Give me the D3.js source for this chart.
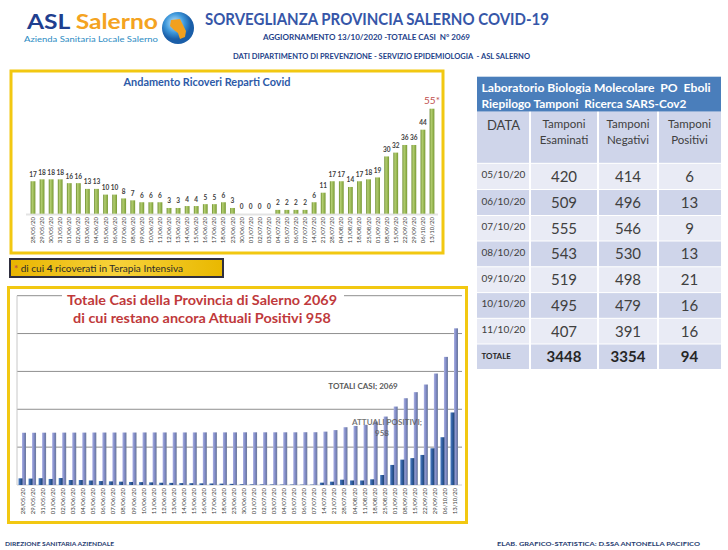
<!DOCTYPE html>
<html>
<head>
<meta charset="utf-8">
<script src="https://cdn.jsdelivr.net/npm/d3@7"></script>
<style>
    body { margin: 0; background: #fff; }
    text { font-family: Lato, "Open Sans", sans-serif; white-space: pre; }
</style>
</head>
<body>
<div id="chart"></div>
<script>
// Ricoveri reparti covid (top chart)
var ricDates = ["28/05/20","29/05/20","30/05/20","31/05/20","01/06/20","02/06/20","03/06/20","04/06/20",
    "05/06/20","06/06/20","07/06/20","08/06/20","09/06/20","10/06/20","11/06/20","12/06/20","13/06/20",
    "14/06/20","15/06/20","16/06/20","17/06/20","18/06/20","23/06/20","30/06/20","01/07/20","02/07/20",
    "03/07/20","04/07/20","05/07/20","06/07/20","07/07/20","14/07/20","21/07/20","28/07/20","04/08/20",
    "11/08/20","18/08/20","25/08/20","01/09/20","08/09/20","15/09/20","22/09/20","29/09/20","06/10/20","13/10/20"];
var ricValues = [17,18,18,18,16,16,13,13,10,10,8,7,6,6,6,3,3,4,4,5,5,6,3,0,0,0,0,2,2,2,2,6,11,17,17,14,17,18,19,30,32,36,36,44,55];

// Totale casi / attuali positivi (bottom chart)
var casiDates = ["28/05/20","29/05/20","31/05/20","01/06/20","02/06/20","03/06/20","04/06/20","05/06/20",
    "06/06/20","07/06/20","08/06/20","09/06/20","10/06/20","11/06/20","12/06/20","13/06/20","14/06/20",
    "15/06/20","16/06/20","17/06/20","18/06/20","23/06/20","30/06/20","01/07/20","02/07/20","03/07/20",
    "04/07/20","05/07/20","06/07/20","07/07/20","14/07/20","21/07/20","28/07/20","04/08/20","11/08/20",
    "18/08/20","25/08/20","01/09/20","08/09/20","15/09/20","22/09/20","29/09/20","06/10/20","13/10/20"];
var totaliCasi = [690,690,691,691,692,692,692,693,693,693,693,693,694,694,694,694,694,694,695,695,695,695,
    696,696,696,696,696,696,697,697,705,725,763,780,795,838,904,1036,1146,1226,1327,1472,1692,2069];
var attualiPositivi = [88,85,90,80,92,66,66,60,52,48,44,40,38,35,30,28,25,24,22,20,18,15,
    10,8,8,7,6,6,5,5,31,44,70,60,60,75,132,265,335,355,397,485,631,958];
var casiTicks = [0,500,1000,1500,2000,2500];

// Tabella tamponi
var tabHeader = ["DATA", "Tamponi|Esaminati", "Tamponi|Negativi", "Tamponi|Positivi"];
var tabDates = ["05/10/20","06/10/20","07/10/20","08/10/20","09/10/20","10/10/20","11/10/20"];
var tabEsaminati = [420,509,555,543,519,495,407];
var tabNegativi = [414,496,546,530,498,479,391];
var tabPositivi = [6,13,9,13,21,16,16];
var tabTotals = [3448,3354,94];

var width = 728, height = 550;

var svg = d3.select("#chart").append("svg")
    .attr("width", width)
    .attr("height", height);

var defs = svg.append("defs");

function hGrad(id, stops) {
    var g = defs.append("linearGradient").attr("id", id)
        .attr("x1", "0").attr("x2", "1").attr("y1", "0").attr("y2", "0");
    stops.forEach(function(s, i) {
        g.append("stop").attr("offset", (i / (stops.length - 1) * 100) + "%").attr("stop-color", s);
    });
}
hGrad("gGreen", ["#6a8a2c", "#b3cd72", "#98b852", "#779636"]);
hGrad("gTot", ["#aab0e2", "#8f98d2", "#7682b8", "#6c7a98"]);
hGrad("gAtt", ["#4d7fc4", "#2f5c9e", "#1f416f"]);
hGrad("gNote", ["#e8b400", "#f7d23a", "#e9b800"]);
var rg = defs.append("radialGradient").attr("id", "gLogo").attr("cx", "40%").attr("cy", "35%");
rg.append("stop").attr("offset", "0%").attr("stop-color", "#c9ecff");
rg.append("stop").attr("offset", "60%").attr("stop-color", "#3d97da");
rg.append("stop").attr("offset", "100%").attr("stop-color", "#1a5ea8");

// ****************** Header ***************************
var head = svg.append("g");
var asl = head.append("text").attr("x", 27).attr("y", 29)
    .style("font-size", "20px")
    .attr("textLength", 131).attr("lengthAdjust", "spacingAndGlyphs");
asl.append("tspan").attr("font-weight", "bold").attr("fill", "#1f3f8f").text("ASL ");
asl.append("tspan").attr("fill", "#f4a321").attr("font-weight", "bold").text("Salerno");
head.append("text").attr("x", 24).attr("y", 42)
    .attr("fill", "#2d8cc4").style("font-size", "7.5px")
    .attr("textLength", 134).attr("lengthAdjust", "spacingAndGlyphs")
    .text("Azienda Sanitaria Locale Salerno");
head.append("circle").attr("cx", 178).attr("cy", 28).attr("r", 16).attr("fill", "url(#gLogo)");
head.append("path")
    .attr("d", "M171,20 L180,19 L183,25 L186,31 L185,37 L180,39 L178,33 L174,30 L170,26 Z")
    .attr("fill", "#f2a01e");

head.append("text").attr("x", 205).attr("y", 25)
    .attr("fill", "#3656a8").attr("font-weight", "bold").style("font-size", "17px")
    .attr("textLength", 344).attr("lengthAdjust", "spacingAndGlyphs")
    .text("SORVEGLIANZA PROVINCIA SALERNO COVID-19");
head.append("text").attr("x", 263).attr("y", 40)
    .attr("fill", "#243f8a").attr("font-weight", "bold").style("font-size", "8px")
    .attr("textLength", 207).attr("lengthAdjust", "spacingAndGlyphs")
    .text("AGGIORNAMENTO 13/10/2020 -TOTALE CASI  N° 2069");
head.append("text").attr("x", 233).attr("y", 59)
    .attr("fill", "#243f8a").attr("font-weight", "bold").style("font-size", "7px")
    .attr("textLength", 297).attr("lengthAdjust", "spacingAndGlyphs")
    .text("DATI DIPARTIMENTO DI PREVENZIONE - SERVIZIO EPIDEMIOLOGIA  - ASL SALERNO");

// ****************** Top chart: ricoveri ***************************
var topG = svg.append("g");
topG.append("rect").attr("x", 11).attr("y", 71).attr("width", 432).attr("height", 182)
    .attr("fill", "#fff").attr("stroke", "#f2c811").attr("stroke-width", 3);
topG.append("text").attr("x", 207).attr("y", 86).attr("text-anchor", "middle")
    .attr("fill", "#2d5aa8").attr("font-weight", "bold").style("font-size", "11px")
    .attr("textLength", 167).attr("lengthAdjust", "spacingAndGlyphs")
    .text("Andamento Ricoveri Reparti Covid");

var xRic = d3.scalePoint().domain(ricDates).range([33, 432]);
var yRic = d3.scaleLinear().domain([0, 55]).range([213.7, 108.7]);
var bw = 4.8;

topG.append("line").attr("x1", 26).attr("x2", 438).attr("y1", 214.5).attr("y2", 214.5)
    .attr("stroke", "#e3e3e3").attr("stroke-width", 2);

topG.selectAll("rect.ric").data(ricValues).enter().append("rect")
    .attr("class", "ric")
    .attr("x", function(d, i) { return xRic(ricDates[i]) - bw / 2; })
    .attr("y", function(d) { return yRic(d); })
    .attr("width", bw)
    .attr("height", function(d) { return yRic(0) - yRic(d); })
    .attr("fill", "url(#gGreen)");

topG.selectAll("text.val").data(ricValues.slice(0, -1)).enter().append("text")
    .attr("class", "val")
    .attr("x", function(d, i) { return xRic(ricDates[i]); })
    .attr("y", function(d) { return yRic(d) - 4.5; })
    .attr("text-anchor", "middle").attr("font-weight", "bold")
    .attr("fill", "#404040").style("font-size", "6.5px")
    .text(function(d) { return d; });

// last value in red with asterisk
var last = ricValues.length - 1;
topG.append("text")
    .attr("x", xRic(ricDates[last])).attr("y", yRic(ricValues[last]) - 5)
    .attr("text-anchor", "middle").attr("fill", "#c0504d").style("font-size", "10px")
    .text(ricValues[last] + "*");

topG.selectAll("text.xl").data(ricDates).enter().append("text")
    .attr("class", "xl")
    .attr("transform", function(d) { return "translate(" + (xRic(d) + 2) + ",217) rotate(-90)"; })
    .attr("text-anchor", "end").attr("fill", "#404040").style("font-size", "6px")
    .text(function(d) { return d; });

// note box
var note = svg.append("g");
note.append("rect").attr("x", 10).attr("y", 259).attr("width", 213).attr("height", 18)
    .attr("fill", "url(#gNote)").attr("stroke", "#2f2f3f").attr("stroke-width", 2);
var nt = note.append("text").attr("x", 14).attr("y", 271.5)
    .attr("fill", "#2b2b2b").style("font-size", "9.5px")
    .attr("textLength", 169).attr("lengthAdjust", "spacingAndGlyphs");
nt.append("tspan").attr("fill", "#c0504d").attr("font-weight", "bold").text("* ");
nt.append("tspan").text("di cui ");
nt.append("tspan").attr("font-weight", "bold").text("4");
nt.append("tspan").text(" ricoverati in Terapia Intensiva");

// ****************** Bottom chart: casi ***************************
var bot = svg.append("g");
bot.append("rect").attr("x", 8.5).attr("y", 287.5).attr("width", 458).attr("height", 235)
    .attr("fill", "#fff").attr("stroke", "#f2c811").attr("stroke-width", 3);

var xCasi = d3.scalePoint().domain(casiDates).range([23, 455]);
var yCasi = d3.scaleLinear().domain([0, 2500]).range([485, 295.7]);

bot.selectAll("line.grid").data(casiTicks).enter().append("line")
    .attr("class", "grid")
    .attr("x1", 17).attr("x2", 462)
    .attr("y1", function(d) { return yCasi(d); })
    .attr("y2", function(d) { return yCasi(d); })
    .attr("stroke", function(d) { return d === 0 ? "#d0d0d0" : "#8f8f8f"; })
    .attr("stroke-width", 1);
bot.append("line").attr("x1", 17).attr("x2", 17).attr("y1", yCasi(2500)).attr("y2", yCasi(0))
    .attr("stroke", "#c8c8c8");

bot.selectAll("rect.tot").data(totaliCasi).enter().append("rect")
    .attr("class", "tot")
    .attr("x", function(d, i) { return xCasi(casiDates[i]) - 1; })
    .attr("y", function(d) { return yCasi(d); })
    .attr("width", 4)
    .attr("height", function(d) { return yCasi(0) - yCasi(d); })
    .attr("fill", "url(#gTot)");

bot.selectAll("rect.att").data(attualiPositivi).enter().append("rect")
    .attr("class", "att")
    .attr("x", function(d, i) { return xCasi(casiDates[i]) - 4.5; })
    .attr("y", function(d) { return yCasi(d); })
    .attr("width", 4)
    .attr("height", function(d) { return yCasi(0) - yCasi(d); })
    .attr("fill", "url(#gAtt)");

bot.selectAll("text.xl").data(casiDates).enter().append("text")
    .attr("class", "xl")
    .attr("transform", function(d) { return "translate(" + (xCasi(d) + 2) + ",488) rotate(-90)"; })
    .attr("text-anchor", "end").attr("fill", "#404040").style("font-size", "6px")
    .text(function(d) { return d; });

// title on white background
bot.append("rect").attr("x", 62).attr("y", 290).attr("width", 282).attr("height", 38).attr("fill", "#fff");
var titleLines = ["Totale Casi della Provincia di Salerno 2069", "di cui restano ancora Attuali Positivi 958"];
bot.selectAll("text.title").data(titleLines).enter().append("text")
    .attr("class", "title")
    .attr("x", 202).attr("y", function(d, i) { return 305 + i * 18; })
    .attr("text-anchor", "middle").attr("font-weight", "bold")
    .attr("fill", "#c0393b").style("font-size", "14px")
    .attr("textLength", function(d, i) { return i === 0 ? 270 : 258; })
    .attr("lengthAdjust", "spacingAndGlyphs")
    .text(function(d) { return d; });

// data labels
var lastC = casiDates.length - 1;
bot.append("text").attr("x", 363).attr("y", 389).attr("text-anchor", "middle")
    .attr("font-weight", "bold").attr("fill", "#595959").style("font-size", "8px")
    .text("TOTALI CASI; " + totaliCasi[lastC]);
bot.append("text").attr("x", 387).attr("y", 425).attr("text-anchor", "middle")
    .attr("font-weight", "bold").attr("fill", "#595959").attr("fill-opacity", 0.85).style("font-size", "8px")
    .text("ATTUALI POSITIVI;");
bot.append("text").attr("x", 382).attr("y", 436).attr("text-anchor", "middle")
    .attr("font-weight", "bold").attr("fill", "#595959").attr("fill-opacity", 0.85).style("font-size", "8px")
    .text(attualiPositivi[lastC]);

// ****************** Table ***************************
var tab = svg.append("g");
var colX = [477, 530, 598, 658, 721];
var rowY = [163.3, 189.5, 215.5, 241, 266.8, 292.6, 318.3, 344, 369.5];

tab.append("rect").attr("x", colX[0]).attr("y", 76.7).attr("width", colX[4] - colX[0]).attr("height", 35)
    .attr("fill", "#4a7ebb");
var headLines = ["Laboratorio Biologia Molecolare  PO  Eboli", "Riepilogo Tamponi  Ricerca SARS-Cov2"];
tab.selectAll("text.hl").data(headLines).enter().append("text")
    .attr("class", "hl")
    .attr("x", 481.5).attr("y", function(d, i) { return 92 + i * 15.5; })
    .attr("fill", "#fff").attr("font-weight", "bold").style("font-size", "10.5px")
    .attr("textLength", function(d, i) { return i === 0 ? 229 : 205; })
    .attr("lengthAdjust", "spacingAndGlyphs")
    .text(function(d) { return d; });

// column header row
tab.append("rect").attr("x", colX[0]).attr("y", 111.7).attr("width", colX[4] - colX[0]).attr("height", rowY[0] - 111.7)
    .attr("fill", "#cfd5ea");

// rows
var rows = tabDates.map(function(d, i) {
    return [d, tabEsaminati[i], tabNegativi[i], tabPositivi[i]];
});
rows.push(["TOTALE"].concat(tabTotals));

tab.selectAll("rect.row").data(rows).enter().append("rect")
    .attr("class", "row")
    .attr("x", colX[0]).attr("y", function(d, i) { return rowY[i]; })
    .attr("width", colX[4] - colX[0])
    .attr("height", function(d, i) { return rowY[i + 1] - rowY[i]; })
    .attr("fill", function(d, i) { return i % 2 === 0 ? "#e9ebf5" : "#cfd5ea"; });

// white separators
tab.selectAll("line.vsep").data(colX.slice(1, 4)).enter().append("line")
    .attr("class", "vsep")
    .attr("x1", function(d) { return d; }).attr("x2", function(d) { return d; })
    .attr("y1", 111.7).attr("y2", rowY[rowY.length - 1])
    .attr("stroke", "#fff").attr("stroke-width", 2);
tab.selectAll("line.hsep").data(rowY).enter().append("line")
    .attr("class", "hsep")
    .attr("x1", colX[0]).attr("x2", colX[4])
    .attr("y1", function(d) { return d; }).attr("y2", function(d) { return d; })
    .attr("stroke", "#fff").attr("stroke-width", 1);

// header texts
tab.selectAll("g.hc").data(tabHeader).enter().append("g")
    .attr("class", "hc")
    .each(function(d, j) {
        var cx = (colX[j] + colX[j + 1]) / 2;
        var parts = d.split("|");
        d3.select(this).selectAll("text").data(parts).enter().append("text")
            .attr("x", cx)
            .attr("y", function(p, k) { return parts.length === 1 ? 130 : 127.5 + k * 16.5; })
            .attr("text-anchor", "middle").attr("fill", "#404040")
            .style("font-size", parts.length === 1 ? "13px" : "11.5px")
            .text(function(p) { return p; });
    });

// cell texts
tab.selectAll("g.rowt").data(rows).enter().append("g")
    .attr("class", "rowt")
    .each(function(r, i) {
        var yMid = (rowY[i] + rowY[i + 1]) / 2;
        var isTot = i === rows.length - 1;
        d3.select(this).selectAll("text").data(r).enter().append("text")
            .attr("x", function(c, j) { return j === 0 ? 481.5 : (colX[j] + colX[j + 1]) / 2; })
            .attr("y", function(c, j) { return j === 0 ? yMid + 2 : yMid + 5.5; })
            .attr("text-anchor", function(c, j) { return j === 0 ? "start" : "middle"; })
            .attr("fill", isTot ? "#262626" : "#404040")
            .attr("font-weight", isTot ? "bold" : "normal")
            .style("font-size", function(c, j) { return j === 0 ? (isTot ? "8px" : "10px") : "15px"; })
            .text(function(c) { return c; });
    });

// ****************** Footer ***************************
svg.append("text").attr("x", 5).attr("y", 546)
    .attr("fill", "#1f3c70").attr("font-weight", "bold").style("font-size", "6px")
    .attr("textLength", 109).attr("lengthAdjust", "spacingAndGlyphs")
    .text("DIREZIONE SANITARIA AZIENDALE");
svg.append("text").attr("x", 497).attr("y", 546)
    .attr("fill", "#1f3c70").attr("font-weight", "bold").style("font-size", "6px")
    .attr("textLength", 203).attr("lengthAdjust", "spacingAndGlyphs")
    .text("ELAB. GRAFICO-STATISTICA: D.SSA ANTONELLA PACIFICO");
</script>
</body>
</html>
